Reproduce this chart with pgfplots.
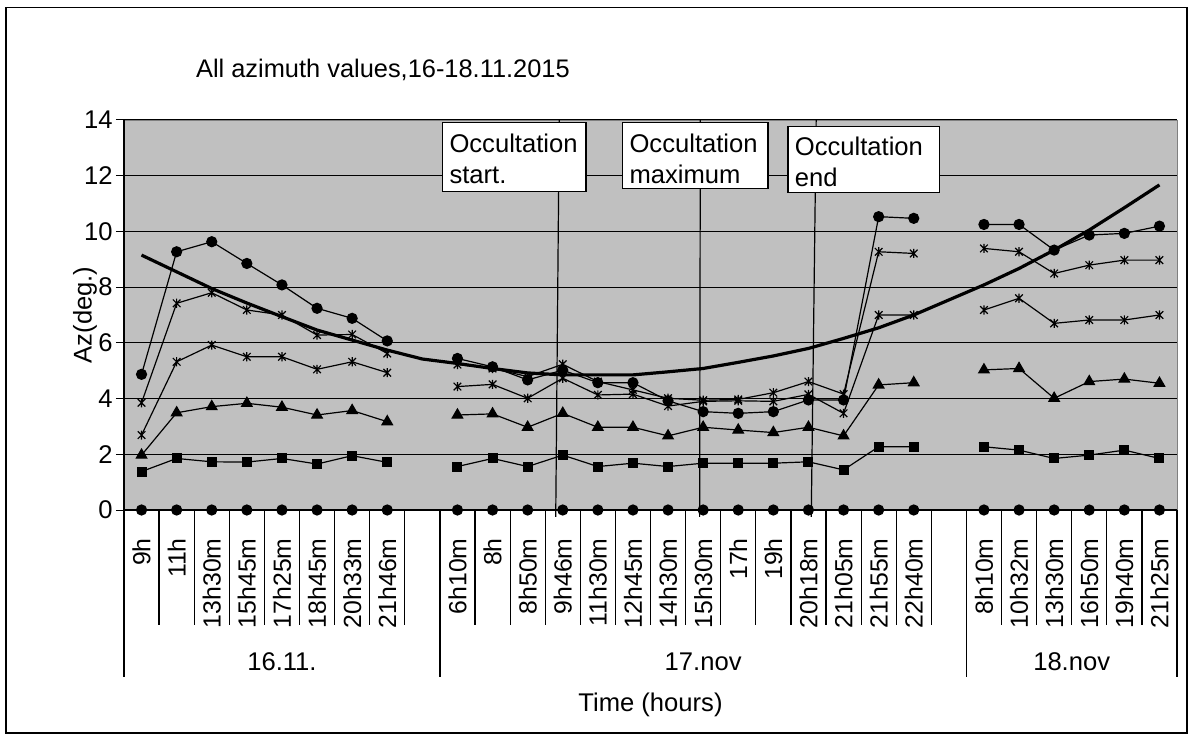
\documentclass[border=0pt]{standalone}
\usepackage{pgfplots}
\pgfplotsset{compat=1.18}
\usepackage{pgfplotstable}
\usepackage{fontspec}
\setmainfont{Liberation Sans}
\definecolor{plotbg}{RGB}{192,192,192}

\pgfdeclareplotmark{xstar}{%
  \pgfpathmoveto{\pgfpoint{-\pgfplotmarksize}{-\pgfplotmarksize}}%
  \pgfpathlineto{\pgfpoint{\pgfplotmarksize}{\pgfplotmarksize}}%
  \pgfpathmoveto{\pgfpoint{-\pgfplotmarksize}{\pgfplotmarksize}}%
  \pgfpathlineto{\pgfpoint{\pgfplotmarksize}{-\pgfplotmarksize}}%
  \pgfpathmoveto{\pgfpoint{0pt}{-1.2\pgfplotmarksize}}%
  \pgfpathlineto{\pgfpoint{0pt}{1.2\pgfplotmarksize}}%
  \pgfusepathqstroke}

\pgfplotstableread{
x  sq   tri  sa   sb   ci    th    zr
0  1.38 1.97 2.69 3.85 4.87  9.15  0
1  1.85 3.49 5.32 7.42 9.27  8.55  0
2  1.73 3.71 5.92 7.80 9.63  7.95  0
3  1.72 3.83 5.50 7.18 8.85  7.43  0
4  1.85 3.69 5.50 7.00 8.08  6.94  0
5  1.65 3.41 5.05 6.28 7.24  6.46  0
6  1.95 3.57 5.32 6.30 6.88  6.10  0
7  1.71 3.17 4.93 5.62 6.07  5.74  0
8  nan  nan  nan  nan  nan   5.42  nan
9  1.56 3.41 4.43 5.22 5.44  5.26  0
10 1.85 3.45 4.51 5.08 5.14  5.08  0
11 1.56 2.97 4.01 4.79 4.67  4.92  0
12 1.97 3.47 4.73 5.23 5.02  4.85  0
13 1.56 2.97 4.13 4.61 4.57  4.85  0
14 1.68 2.97 4.16 4.31 4.57  4.85  0
15 1.56 2.66 3.73 4.01 3.92  4.96  0
16 1.68 2.97 3.90 3.94 3.53  5.08  0
17 1.68 2.87 3.92 3.97 3.47  5.30  0
18 1.68 2.78 3.90 4.21 3.53  5.53  0
19 1.73 2.97 4.15 4.61 3.95  5.80  0
20 1.44 2.66 3.47 4.16 3.95  6.16  0
21 2.27 4.49 7.00 9.27 10.53 6.54  0
22 2.27 4.57 7.00 9.21 10.47 7.00  0
23 nan  nan  nan  nan  nan   7.54  nan
24 2.27 5.03 7.18 9.39 10.25 8.08  0
25 2.15 5.08 7.60 9.27 10.25 8.67  0
26 1.85 4.01 6.70 8.49 9.33  9.33  0
27 1.97 4.61 6.82 8.79 9.87  10.05 0
28 2.15 4.70 6.82 8.97 9.93  10.85 0
29 1.85 4.55 7.00 8.97 10.19 11.67 0
}\data

\begin{document}
\begin{tikzpicture}[font=\fontsize{12.8}{15}\selectfont]
\useasboundingbox (-62pt,-114pt) rectangle (532.5pt,255pt);
\draw[black, line width=0.6pt] (-59pt,-111.5pt) rectangle (531.5pt,251.25pt);
\begin{axis}[
  at={(0,0)}, anchor=south west,
  scale only axis, width=526.5pt, height=195pt,
  xmin=-0.5, xmax=29.5, ymin=0, ymax=14,
  axis background/.style={fill=plotbg, draw=gray},
  axis x line*=bottom, axis y line*=left,
  axis line style={black, line width=0.6pt},
  ytick={0,2,...,14}, yticklabels={0,2,4,6,8,10,12,14},
  ymajorgrids, grid style={black, line width=0.5pt},
  tick align=outside, major tick length=4pt,
  ytick style={black, line width=0.5pt},
  yticklabel style={anchor=east, inner sep=1.5pt},
  xtick={0,...,29},
  xticklabels={9h,11h,13h30m,15h45m,17h25m,18h45m,20h33m,21h46m,{},6h10m,8h,8h50m,9h46m,11h30m,12h45m,14h30m,15h30m,17h,19h,20h18m,21h05m,21h55m,22h40m,{},8h10m,10h32m,13h30m,16h50m,19h40m,21h25m},
  xtick style={draw=none},
  xticklabel style={rotate=90, anchor=east, inner sep=0pt, font=\fontsize{12.4}{14}\selectfont},
  xticklabel shift=10pt,
  unbounded coords=jump,
  clip=false,
  every axis plot/.append style={black, line width=0.6pt},
]
\addplot[mark=*, mark size=2.5pt] table[x=x,y=zr]{\data};
\addplot[mark=square*, mark size=2.2pt] table[x=x,y=sq]{\data};
\addplot[mark=triangle*, mark size=3pt] table[x=x,y=tri]{\data};
\addplot[mark=xstar, mark size=1.9pt] table[x=x,y=sa]{\data};
\addplot[mark=xstar, mark size=1.9pt] table[x=x,y=sb]{\data};
\addplot[mark=*, mark size=2.5pt] table[x=x,y=ci]{\data};
\addplot[no marks, line width=1.6pt] table[x=x,y=th]{\data};

% occultation lines
\draw[black, line width=0.6pt] (axis cs:11.9,14) -- (axis cs:11.8,-0.25);
\draw[black, line width=0.6pt] (axis cs:15.92,14) -- (axis cs:15.9,-0.25);
\draw[black, line width=0.6pt] (axis cs:19.22,14) -- (axis cs:19.08,-0.25);

% boxes
\draw[black, line width=0.6pt, fill=white] (axis cs:8.58,13.90) rectangle (axis cs:12.66,11.43);
\draw[black, line width=0.6pt, fill=white] (axis cs:13.71,13.90) rectangle (axis cs:17.85,11.55);
\draw[black, line width=0.6pt, fill=white] (axis cs:18.42,13.78) rectangle (axis cs:22.74,11.39);
\node[anchor=north west, inner sep=0pt, align=left, font=\fontsize{12.8}{15.5}\selectfont] at ([xshift=3.2pt,yshift=-5.3pt]axis cs:8.58,13.90) {Occultation\\start.};
\node[anchor=north west, inner sep=0pt, align=left, font=\fontsize{12.8}{15.5}\selectfont] at ([xshift=3.2pt,yshift=-5.3pt]axis cs:13.71,13.90) {Occultation\\maximum};
\node[anchor=north west, inner sep=0pt, align=left, font=\fontsize{12.8}{15.5}\selectfont] at ([xshift=3.2pt,yshift=-5.3pt]axis cs:18.42,13.78) {Occultation\\end};

% category separators
\pgfplotsinvokeforeach{0.5,1.5,2.5,3.5,4.5,5.5,6.5,7.5,9.5,10.5,11.5,12.5,13.5,14.5,15.5,16.5,17.5,18.5,19.5,20.5,21.5,22.5,24.5,25.5,26.5,27.5,28.5}{
  \draw[black, line width=0.6pt] (axis cs:#1,0) -- ([yshift=-57.5pt]axis cs:#1,0);
}
\pgfplotsinvokeforeach{-0.5,8.5,23.5,29.5}{
  \draw[black, line width=0.6pt] (axis cs:#1,0) -- ([yshift=-83.5pt]axis cs:#1,0);
}
\node at ([yshift=-76pt]axis cs:4,0) {16.11.};
\node at ([yshift=-76pt]axis cs:16,0) {17.nov};
\node at ([yshift=-76pt]axis cs:26.5,0) {18.nov};
\node at ([yshift=-97.5pt]axis cs:14.5,0) {Time (hours)};
\node[rotate=90] at ([xshift=-19.5pt]rel axis cs:0,0.5) {Az(deg.)};
\node[anchor=west, font=\fontsize{12.7}{15}\selectfont] at ([xshift=32.5pt,yshift=220pt]rel axis cs:0,0) {All azimuth values,16-18.11.2015};
\end{axis}
\end{tikzpicture}
\end{document}
